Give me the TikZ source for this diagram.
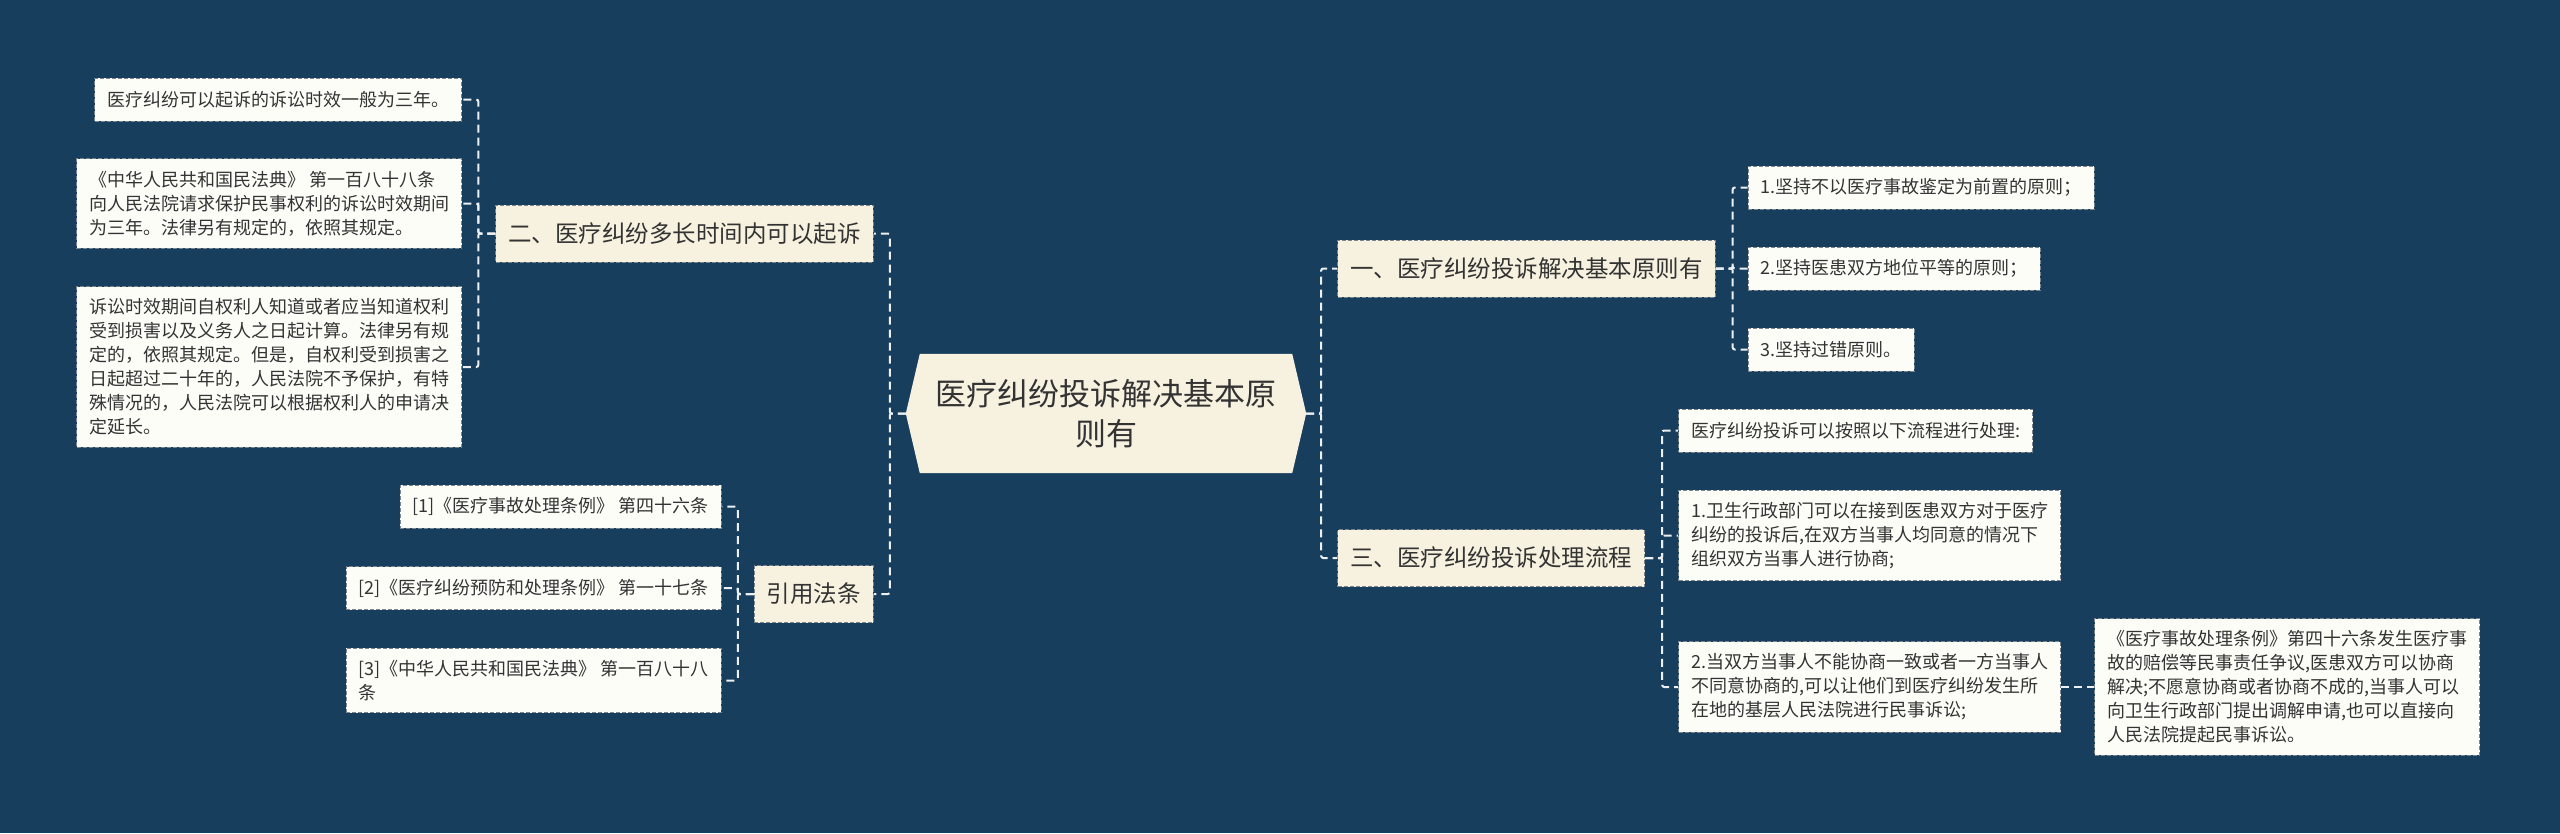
\documentclass[tikz,border=0pt]{standalone}
\usepackage{fontspec}
\setmainfont{Noto Sans CJK SC}
\usepackage{xcolor}
\usepackage{tikz}
\usetikzlibrary{positioning, backgrounds}

\definecolor{bgblue}{HTML}{183E5E}
\definecolor{cream}{HTML}{F7F2E0}
\definecolor{paper}{HTML}{FDFDF8}
\definecolor{edge}{HTML}{7A8590}
\definecolor{ink}{HTML}{333333}

\begin{document}
\begin{tikzpicture}[x=1pt, y=-1pt, node distance=32pt,
    title/.style={minimum width=400pt, minimum height=119pt, inner sep=0pt,
        align=center, text=ink, font=\fontsize{31pt}{40pt}\selectfont},
    branch/.style={draw=edge, line width=1pt, dash pattern=on 4pt off 2pt,
        fill=cream, text=ink, minimum height=57pt, inner xsep=12.5pt,
        font=\fontsize{23.5pt}{28pt}\selectfont},
    leaf/.style={draw=edge, line width=1pt, dash pattern=on 4pt off 2pt,
        fill=paper, text=ink, minimum height=43pt, inner xsep=12.5pt,
        inner ysep=12pt, align=left, font=\fontsize{18pt}{24pt}\selectfont},
    link/.style={draw=white!92!bgblue, line width=2pt,
        dash pattern=on 8pt off 5pt, rounded corners=2pt}]
    \useasboundingbox (0,0) rectangle (2560,833);

    % Root node
    \node (root) [title] at (1106,413.5) {医疗纠纷投诉解决基本原\\则有};

    % Branch nodes
    \node (b2) [branch, left=32pt of root.west, yshift=180pt] {二、医疗纠纷多长时间内可以起诉};
    \node (cite) [branch, left=32pt of root.west, yshift=-180.5pt] {引用法条};
    \node (b1) [branch, right=31pt of root.east, yshift=145pt] {一、医疗纠纷投诉解决基本原则有};
    \node (b3) [branch, right=31pt of root.east, yshift=-144.5pt] {三、医疗纠纷投诉处理流程};

    % Leaves of b2
    \node (l1) [leaf, left=33pt of b2.west, yshift=134pt] {医疗纠纷可以起诉的诉讼时效一般为三年。};
    \node (l2) [leaf, left=33pt of b2.west, yshift=30pt] {《中华人民共和国民法典》 第一百八十八条\\向人民法院请求保护民事权利的诉讼时效期间\\为三年。法律另有规定的，依照其规定。};
    \node (l3) [leaf, left=33pt of b2.west, yshift=-133.5pt] {诉讼时效期间自权利人知道或者应当知道权利\\受到损害以及义务人之日起计算。法律另有规\\定的，依照其规定。但是，自权利受到损害之\\日起超过二十年的，人民法院不予保护，有特\\殊情况的，人民法院可以根据权利人的申请决\\定延长。};

    % Leaves of cite
    \node (c1) [leaf, left=32pt of cite.west, yshift=87.5pt] {[1]《医疗事故处理条例》 第四十六条};
    \node (c2) [leaf, left=32pt of cite.west, yshift=6pt] {[2]《医疗纠纷预防和处理条例》 第一十七条};
    \node (c3) [leaf, left=32pt of cite.west, yshift=-86.5pt] {[3]《中华人民共和国民法典》 第一百八十八\\条};

    % Leaves of b1
    \node (r1) [leaf, right=32pt of b1.east, yshift=81pt] {1.坚持不以医疗事故鉴定为前置的原则；};
    \node (r2) [leaf, right=32pt of b1.east] {2.坚持医患双方地位平等的原则；};
    \node (r3) [leaf, right=32pt of b1.east, yshift=-81pt] {3.坚持过错原则。};

    % Leaves of b3
    \node (p0) [leaf, right=33pt of b3.east, yshift=127.5pt] {医疗纠纷投诉可以按照以下流程进行处理:};
    \node (p1) [leaf, right=33pt of b3.east, yshift=22.5pt] {1.卫生行政部门可以在接到医患双方对于医疗\\纠纷的投诉后,在双方当事人均同意的情况下\\组织双方当事人进行协商;};
    \node (p2) [leaf, right=33pt of b3.east, yshift=-129pt] {2.当双方当事人不能协商一致或者一方当事人\\不同意协商的,可以让他们到医疗纠纷发生所\\在地的基层人民法院进行民事诉讼;};
    \node (fin) [leaf, right=33pt of p2] {《医疗事故处理条例》第四十六条发生医疗事\\故的赔偿等民事责任争议,医患双方可以协商\\解决;不愿意协商或者协商不成的,当事人可以\\向卫生行政部门提出调解申请,也可以直接向\\人民法院提起民事诉讼。};

    % Background and root shape
    \begin{scope}[on background layer]
        \fill[bgblue] (0,0) rectangle (2560,833);
        \fill[cream] (root.west) -- ([xshift=14pt]root.north west) -- ([xshift=-14pt]root.north east)
            -- (root.east) -- ([xshift=-14pt]root.south east) -- ([xshift=14pt]root.south west) -- cycle;
    \end{scope}

    % Edges
    \draw[link] (root.west) -- ++(-16,0) |- (b2.east);
    \draw[link] (root.west) -- ++(-16,0) |- (cite.east);
    \draw[link] (root.east) -- ++(15,0) |- (b1.west);
    \draw[link] (root.east) -- ++(15,0) |- (b3.west);
    \foreach \n in {l1, l2, l3}
        \draw[link] (b2.west) -- ++(-17,0) |- (\n.east);
    \foreach \n in {c1, c2, c3}
        \draw[link] (cite.west) -- ++(-16,0) |- (\n.east);
    \foreach \n in {r1, r2, r3}
        \draw[link] (b1.east) -- ++(17,0) |- (\n.west);
    \foreach \n in {p0, p1, p2}
        \draw[link] (b3.east) -- ++(17,0) |- (\n.west);
    \draw[link] (p2) -- (fin);
\end{tikzpicture}
\end{document}
